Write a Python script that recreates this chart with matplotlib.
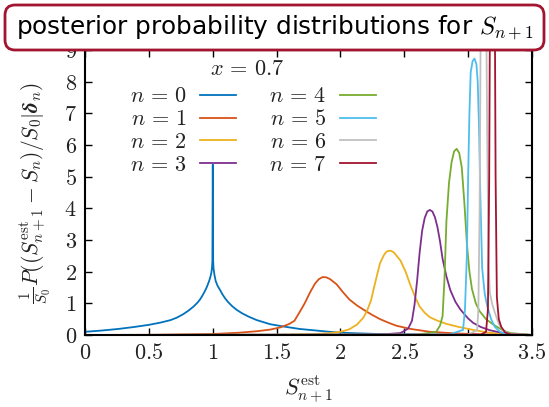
import matplotlib
matplotlib.use("Agg")
import matplotlib.pyplot as plt
from matplotlib.patches import FancyBboxPatch
from matplotlib.transforms import IdentityTransform

plt.rcParams['mathtext.fontset'] = 'cm'

# --- Daten ---
x_n0 = [0, 0.13, 0.26, 0.38, 0.5, 0.59, 0.67, 0.72, 0.77, 0.81, 0.85, 0.88,
        0.9, 0.92, 0.94, 0.955, 0.971, 0.981, 0.989, 0.994, 0.997, 1.0,
        1.003, 1.006, 1.013, 1.023, 1.038, 1.057, 1.075, 1.096, 1.12, 1.149,
        1.185, 1.227, 1.28, 1.344, 1.449, 1.55, 1.68, 1.81, 1.94, 2.07, 2.3,
        2.6, 3.0, 3.5]
y_n0 = [0.1, 0.14, 0.19, 0.25, 0.32, 0.39, 0.47, 0.55, 0.66, 0.77, 0.9, 1.02,
        1.12, 1.25, 1.4, 1.53, 1.7, 1.83, 1.97, 2.12, 2.35, 5.38,
        2.35, 2.1, 1.9, 1.7, 1.55, 1.42, 1.29, 1.16, 1.04, 0.92,
        0.8, 0.69, 0.58, 0.47, 0.34, 0.27, 0.19, 0.14, 0.09, 0.06, 0.03,
        0.015, 0.005, 0.0]

x_n1 = [0, 0.5, 1.0, 1.2, 1.35, 1.45, 1.53, 1.6, 1.64, 1.68, 1.72, 1.76,
        1.8, 1.83, 1.86, 1.89, 1.92, 1.97, 2.02, 2.07, 2.13, 2.2, 2.25,
        2.31, 2.38, 2.44, 2.55, 2.7, 2.9, 3.1, 3.3, 3.5]
y_n1 = [0.0, 0.005, 0.03, 0.07, 0.12, 0.17, 0.24, 0.35, 0.45, 0.72, 1.0, 1.33,
        1.62, 1.76, 1.83, 1.82, 1.76, 1.6, 1.35, 1.12, 0.93, 0.75, 0.63,
        0.5, 0.38, 0.29, 0.19, 0.1, 0.05, 0.02, 0.005, 0.0]

x_n2 = [0, 1.5, 1.8, 1.92, 2.0, 2.07, 2.13, 2.18, 2.21, 2.24, 2.26, 2.29,
        2.31, 2.34, 2.36, 2.38, 2.4, 2.42, 2.47, 2.51, 2.55, 2.59, 2.62,
        2.66, 2.70, 2.76, 2.83, 2.93, 3.04, 3.15, 3.27, 3.5]
y_n2 = [0, 0.005, 0.03, 0.06, 0.1, 0.18, 0.33, 0.55, 0.78, 1.1, 1.45, 1.95,
        2.27, 2.52, 2.63, 2.66, 2.65, 2.6, 2.35, 2.0, 1.55, 1.15, 0.9,
        0.7, 0.56, 0.45, 0.35, 0.25, 0.16, 0.08, 0.03, 0]

x_n3 = [0, 2.3, 2.47, 2.53, 2.56, 2.58, 2.6, 2.62, 2.64, 2.66, 2.68, 2.70,
        2.72, 2.74, 2.76, 2.78, 2.80, 2.83, 2.86, 2.90, 2.94, 3.0, 3.04, 3.1,
        3.17, 3.25, 3.33, 3.5]
y_n3 = [0, 0.01, 0.06, 0.2, 0.45, 0.95, 1.7, 2.6, 3.3, 3.7, 3.9, 3.95,
        3.9, 3.72, 3.4, 2.95, 2.4, 1.85, 1.42, 1.05, 0.8, 0.52, 0.38, 0.25,
        0.15, 0.08, 0.03, 0]

x_n4 = [0, 2.6, 2.75, 2.78, 2.80, 2.815, 2.83, 2.85, 2.87, 2.89, 2.91, 2.93,
        2.95, 2.97, 2.99, 3.01, 3.03, 3.06, 3.09, 3.14, 3.2, 3.27, 3.33, 3.5]
y_n4 = [0, 0.01, 0.1, 0.3, 0.6, 1.8, 3.6, 4.8, 5.45, 5.8, 5.88, 5.75,
        5.3, 4.2, 2.9, 2.0, 1.45, 1.0, 0.75, 0.5, 0.32, 0.15, 0.06, 0]

x_n5 = [0, 2.85, 2.96, 2.975, 2.99, 3.0, 3.01, 3.02, 3.035, 3.05, 3.065, 3.075,
        3.085, 3.095, 3.11, 3.13, 3.15, 3.18, 3.21, 3.25, 3.3, 3.5]
y_n5 = [0, 0.01, 0.16, 0.8, 2.5, 5.0, 7.0, 8.3, 8.65, 8.73, 8.55, 8.0,
        6.6, 4.5, 2.1, 1.3, 0.9, 0.5, 0.25, 0.1, 0.02, 0]

x_n6 = [0, 3.0, 3.07, 3.08, 3.09, 3.1, 3.12, 3.14, 3.15, 3.16, 3.17, 3.19,
        3.21, 3.24, 3.27, 3.32, 3.5]
y_n6 = [0, 0.01, 0.15, 0.8, 4, 11, 14, 11, 6, 2.2, 1.33, 0.95,
        0.7, 0.35, 0.16, 0.04, 0]

x_n7 = [0, 3.1, 3.14, 3.155, 3.165, 3.175, 3.19, 3.205, 3.215, 3.225, 3.24,
        3.26, 3.29, 3.33, 3.5]
y_n7 = [0, 0.01, 0.1, 0.8, 5, 14, 18, 14, 5, 1.2, 0.5, 0.25, 0.08, 0.02, 0]

xs = [x_n0, x_n1, x_n2, x_n3, x_n4, x_n5, x_n6, x_n7]
ys = [y_n0, y_n1, y_n2, y_n3, y_n4, y_n5, y_n6, y_n7]
labels = [rf'$n\,=\,{n}$' for n in range(8)]
farben = ['#0072BD', '#D95319', '#EDB120', '#7E2F8E',
          '#77AC30', '#4DBEEE', '#C0C0C0', '#A2142F']

xticks = [0, 0.5, 1, 1.5, 2, 2.5, 3, 3.5]
yticks = list(range(0, 10))

# --- Plot ---
fig = plt.figure(figsize=(5.49, 4.07), dpi=100)
ax = fig.add_axes([0.155, 0.177, 0.814, 0.70])

for x, y, lab, c in zip(xs, ys, labels, farben):
    ax.plot(x, y, color=c, lw=1.3, label=lab)

ax.set_xlim(0, 3.5)
ax.set_ylim(0, 9)
ax.set_xticks(xticks)
ax.set_xticklabels([f'${t:g}$' for t in xticks], fontsize=16, color='#222222')
ax.set_yticks(yticks)
ax.set_yticklabels([f'${t}$' for t in yticks], fontsize=16, color='#222222')
ax.tick_params(direction='in', length=5, width=1, top=True, right=True, pad=6)
for s in ax.spines.values():
    s.set_linewidth(1.5)

ax.set_xlabel(r'$S^{\rm est}_{n+1}$', fontsize=16, color='#222222', labelpad=8)
ax.set_ylabel(r'$\frac{1}{S_0}P((S^{\rm est}_{n+1}-S_n)/S_0|\boldsymbol{\delta}_n)$',
              fontsize=15.5, color='#222222', labelpad=8)

leg = ax.legend(ncol=2, loc='upper left', bbox_to_anchor=(0.065, 0.927),
                frameon=False, markerfirst=False, fontsize=16,
                handlelength=1.6, columnspacing=1.5, labelspacing=0.13,
                handletextpad=0.6, borderpad=0.2)
for t in leg.get_texts():
    t.set_color('#222222')
# Legendentitel
ax.text(0.362, 0.935, r'$x\,=\,0.7$', transform=ax.transAxes, ha='center',
        va='center', fontsize=16, color='#222222')

# Titelkasten
box = FancyBboxPatch((5, 357), 539, 45, boxstyle='round,pad=0,rounding_size=10',
                     transform=IdentityTransform(), fc='white', ec='#A2142F',
                     lw=2, zorder=5)
fig.add_artist(box)
fig.text(0.5, 0.932, r'posterior probability distributions for $S_{n+1}$',
         ha='center', va='center', fontsize=17.8, zorder=6)

fig.savefig('out.png', dpi=100)
